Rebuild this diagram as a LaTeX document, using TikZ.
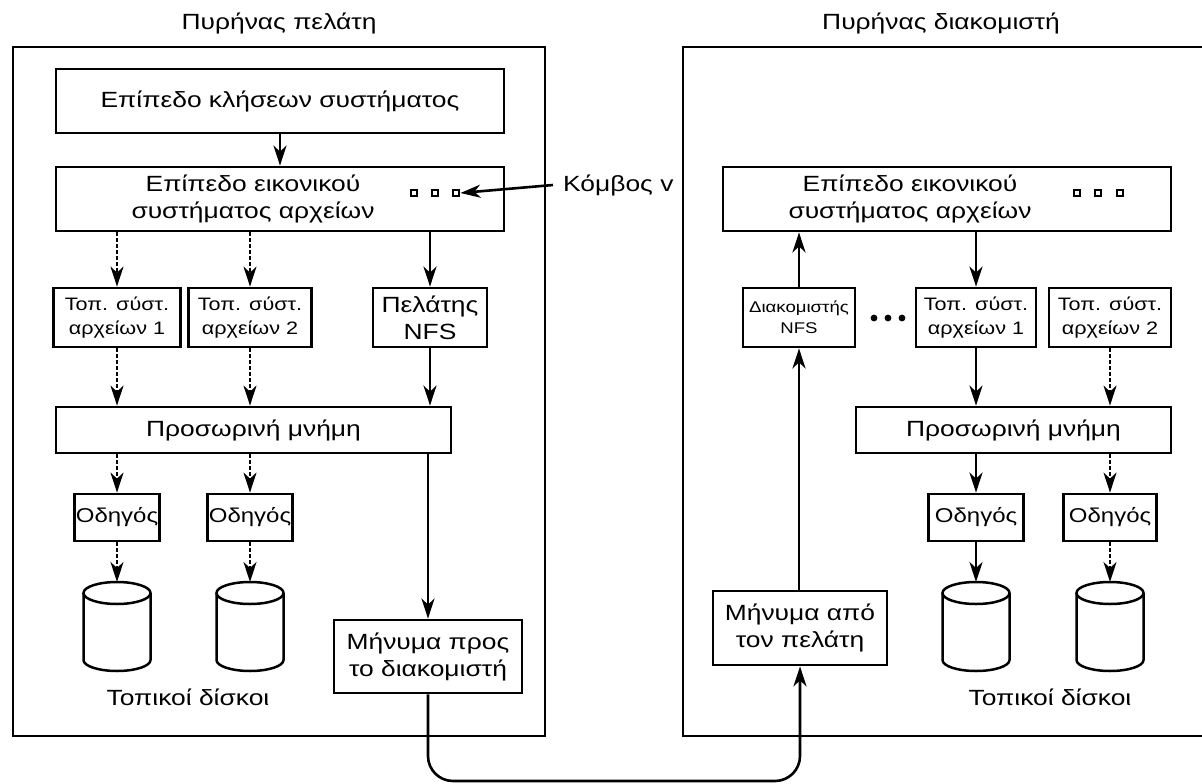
\documentclass[tikz,border=0pt]{standalone}
\usepackage{fontspec}
\setmainfont{Liberation Sans}[FakeStretch=1.2]
\usetikzlibrary{arrows.meta}

\begin{document}
\begin{tikzpicture}[x=1pt, y=-1pt,
  every node/.style={font=\fontsize{22}{27}\selectfont, align=center},
  box/.style={draw, line width=2.8pt, inner sep=0pt},
  kernel/.style={line width=2.6pt},
  fsfont/.style={font=\fontsize{18}{24}\selectfont},
  drv/.style={font=\fontsize{20}{24}\selectfont},
  sq/.style={draw, line width=2.4pt, minimum size=6.5pt, inner sep=0pt},
  disk/.style={line width=2.5pt},
  arr/.style={line width=2.6pt, -{Stealth[length=20pt, width=13pt, inset=6pt]}},
  darr/.style={line width=2pt, dash pattern=on 3.5pt off 2.5pt, -{Stealth[length=20pt, width=13pt, inset=6pt]}}]
  \useasboundingbox (0,0) rectangle (1202,784);

  % the two kernels
  \draw[kernel] (13,47) rectangle (545,736);
  \draw[kernel] (1206,47) -- (683,47) -- (683,736) -- (1206,736);
  \node (tcl) at (279,23) {Πυρήνας πελάτη};
  \node (tsv) at (941,23) {Πυρήνας διακομιστή};

  % client side
  \node[box, minimum width=448pt, minimum height=64pt] (sysL) at (280,101) {Επίπεδο κλήσεων συστήματος};
  \node[box, minimum width=448pt, minimum height=64pt] (vfsL) at (280,199) {};
  \node (vfsLt) at (253,199) {Επίπεδο εικονικού\\συστήματος αρχείων};
  \foreach \i/\x in {1/414,2/435,3/456} \node[sq] (vL\i) at (\x,193) {};
  \node[anchor=west, inner sep=0pt] (kv) at (563,185) {Κόμβος v};
  \draw[arr] ([xshift=-10pt]kv.west) -- (vL3.east);

  \node[box, fsfont, minimum width=127pt, minimum height=59pt] (fsL1) at (117,317.5) {Τοπ. σύστ.\\αρχείων 1};
  \node[box, fsfont, minimum width=123pt, minimum height=59pt] (fsL2) at (250,317.5) {Τοπ. σύστ.\\αρχείων 2};
  \node[box, minimum width=114pt, minimum height=59pt] (nfsC) at (430,317.5) {Πελάτης\\NFS};
  \node[box, minimum width=395pt, minimum height=46pt] (cacheL) at (253.5,430) {Προσωρινή μνήμη};
  \node[box, drv, minimum width=85pt, minimum height=47pt] (drvL1) at (117,517.5) {Οδηγός};
  \node[box, drv, minimum width=85pt, minimum height=47pt] (drvL2) at (250,517.5) {Οδηγός};
  \node[box, minimum width=188pt, minimum height=73pt] (msgL) at (428,656.5) {Μήνυμα προς\\το διακομιστή};
  \node (dsL) at (188,697) {Τοπικοί δίσκοι};

  % server side
  \node[box, minimum width=448pt, minimum height=64pt] (vfsR) at (947,199) {};
  \node (vfsRt) at (910,199) {Επίπεδο εικονικού\\συστήματος αρχείων};
  \foreach \i/\x in {1/1077,2/1098,3/1120} \node[sq] (vR\i) at (\x,193) {};

  \node[box, font=\fontsize{15.5}{21}\selectfont, minimum width=112pt, minimum height=59pt] (nfsS) at (799,317.5) {Διακομιστής\\NFS};
  \foreach \x in {874,888,902} \fill (\x,318) circle[radius=3.4pt];
  \node[box, fsfont, minimum width=120pt, minimum height=59pt] (fsR1) at (976,317.5) {Τοπ. σύστ.\\αρχείων 1};
  \node[box, fsfont, minimum width=122pt, minimum height=59pt] (fsR2) at (1110,317.5) {Τοπ. σύστ.\\αρχείων 2};
  \node[box, minimum width=315pt, minimum height=46pt] (cacheR) at (1013.5,430) {Προσωρινή μνήμη};
  \node[box, drv, minimum width=95pt, minimum height=47pt] (drvR1) at (976,517.5) {Οδηγός};
  \node[box, drv, minimum width=93pt, minimum height=47pt] (drvR2) at (1110,517.5) {Οδηγός};
  \node[box, minimum width=174pt, minimum height=74pt] (msgR) at (800,628) {Μήνυμα από\\τον πελάτη};
  \node (dsR) at (1050,697) {Τοπικοί δίσκοι};

  % local disks
  \foreach \k/\cx in {dkL1/117, dkL2/250, dkR1/976, dkR2/1110} {
    \draw[disk] ({\cx-33.5},593) -- ({\cx-33.5},660) arc[start angle=180, end angle=0, x radius=33.5, y radius=11] -- ({\cx+33.5},593);
    \draw[disk] (\cx,593) ellipse[x radius=33.5, y radius=11];
    \coordinate (\k) at (\cx,582);
  }

  % client arrows
  \draw[arr] (sysL) -- (vfsL);
  \foreach \f in {fsL1, fsL2} {
    \draw[darr] (vfsL.south -| \f) -- (\f);
    \draw[darr] (\f) -- (\f |- cacheL.north);
  }
  \foreach \d/\k in {drvL1/dkL1, drvL2/dkL2} {
    \draw[darr] (cacheL.south -| \d) -- (\d);
    \draw[darr] (\d) -- (\k);
  }
  \draw[arr] (vfsL.south -| nfsC) -- (nfsC);
  \draw[arr] (nfsC) -- (nfsC |- cacheL.north);
  \draw[arr] (cacheL.south -| msgL) -- (msgL);

  % server arrows
  \draw[arr] (nfsS) -- (nfsS |- vfsR.south);
  \draw[arr] (msgR.north -| nfsS) -- (nfsS);
  \draw[arr] (vfsR.south -| fsR1) -- (fsR1);
  \draw[arr] (fsR1) -- (fsR1 |- cacheR.north);
  \draw[arr] (cacheR.south -| drvR1) -- (drvR1);
  \draw[arr] (drvR1) -- (dkR1);
  \draw[darr] (fsR2) -- (fsR2 |- cacheR.north);
  \draw[darr] (cacheR.south -| drvR2) -- (drvR2);
  \draw[darr] (drvR2) -- (dkR2);

  % the message between the kernels
  \coordinate (low) at (0,781);
  \draw[arr, rounded corners=25pt] (msgL.south) -- (msgL.south |- low) -- (msgR.south |- low) -- (msgR.south);
\end{tikzpicture}
\end{document}
